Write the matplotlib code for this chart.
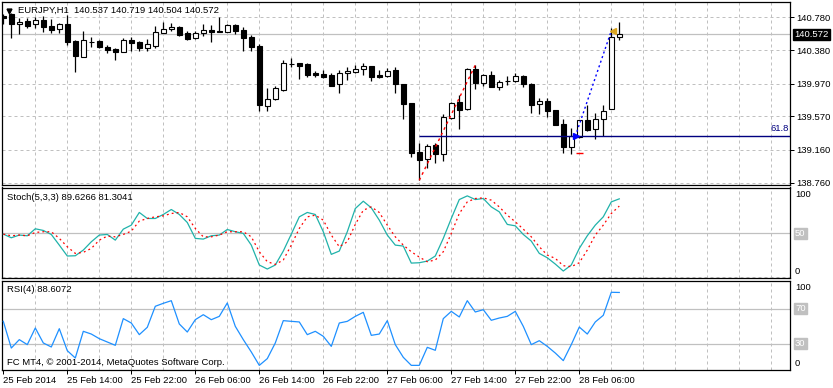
import matplotlib
matplotlib.use('Agg')
import matplotlib.pyplot as plt
import numpy as np

plt.rcParams['font.family'] = ['Liberation Sans', 'DejaVu Sans']

# ---------------- data (EURJPY H1, 25 Feb 06:00 .. 28 Feb 11:00) ----------------
opens = [140.800, 140.817, 140.695, 140.735, 140.695, 140.747, 140.677, 140.634, 140.694, 140.490,
         140.299, 140.475, 140.490, 140.414, 140.393, 140.360, 140.503, 140.475, 140.409, 140.433,
         140.592, 140.637, 140.665, 140.585, 140.524, 140.585, 140.625, 140.610, 140.604, 140.686,
         140.625, 140.536, 140.430, 139.697, 139.779, 139.892, 140.206, 140.218, 140.210, 140.104,
         140.088, 140.075, 139.962, 140.096, 140.116, 140.145, 140.185, 140.075, 140.067, 140.136,
         139.965, 139.737, 139.131, 139.045, 139.220, 139.110, 139.546, 139.742, 139.656, 140.149,
         139.974, 140.075, 139.933, 140.002, 140.006, 140.063, 139.965, 139.725, 139.758, 139.648,
         139.477, 139.200, 139.314, 139.526, 139.412, 139.534, 139.656, 140.537]
highs = [140.820, 140.830, 140.775, 140.768, 140.787, 140.796, 140.756, 140.714, 140.808, 140.503,
         140.613, 140.536, 140.503, 140.442, 140.401, 140.531, 140.536, 140.494, 140.511, 140.674,
         140.726, 140.707, 140.674, 140.613, 140.613, 140.698, 140.686, 140.780, 140.694, 140.698,
         140.658, 140.564, 140.450, 139.913, 139.941, 140.258, 140.279, 140.218, 140.226, 140.128,
         140.136, 140.096, 140.136, 140.177, 140.197, 140.226, 140.185, 140.136, 140.157, 140.169,
         139.965, 139.737, 139.241, 139.233, 139.241, 139.595, 139.749, 139.831, 140.157, 140.197,
         140.088, 140.128, 140.014, 140.063, 140.096, 140.075, 139.981, 139.791, 139.791, 139.648,
         139.538, 139.424, 139.526, 139.709, 139.615, 139.709, 140.646, 140.719]
lows = [140.700, 140.524, 140.572, 140.646, 140.646, 140.604, 140.585, 140.592, 140.442, 140.116,
        140.291, 140.421, 140.409, 140.340, 140.258, 140.360, 140.368, 140.372, 140.372, 140.401,
        140.585, 140.616, 140.555, 140.503, 140.511, 140.555, 140.482, 140.597, 140.597, 140.572,
        140.372, 140.372, 139.636, 139.636, 139.770, 139.880, 140.177, 140.026, 140.055, 140.047,
        140.035, 139.941, 139.859, 140.014, 140.104, 140.075, 140.006, 140.043, 140.047, 139.852,
        139.534, 139.077, 138.789, 138.936, 139.004, 139.029, 139.534, 139.416, 139.648, 139.904,
        139.945, 139.925, 139.892, 139.953, 139.994, 139.925, 139.607, 139.599, 139.566, 139.465,
        139.126, 139.110, 139.310, 139.392, 139.294, 139.330, 139.656, 140.504]
closes = [140.770, 140.695, 140.727, 140.677, 140.747, 140.665, 140.625, 140.698, 140.482, 140.311,
          140.503, 140.475, 140.414, 140.381, 140.360, 140.503, 140.470, 140.409, 140.454, 140.597,
          140.637, 140.665, 140.564, 140.515, 140.585, 140.625, 140.597, 140.597, 140.686, 140.616,
          140.531, 140.421, 139.709, 139.779, 139.913, 140.218, 140.206, 140.189, 140.075, 140.075,
          140.055, 139.945, 140.096, 140.124, 140.149, 140.185, 140.055, 140.055, 140.124, 139.962,
          139.717, 139.126, 139.037, 139.208, 139.110, 139.559, 139.730, 139.648, 140.145, 139.981,
          140.075, 139.933, 139.994, 140.002, 140.063, 139.962, 139.709, 139.758, 139.636, 139.465,
          139.200, 139.330, 139.526, 139.404, 139.534, 139.636, 140.537, 140.572]

stoch_k = [49.2, 45.0, 48.1, 47.3, 55.3, 53.4, 48.8, 36.6, 24.1, 24.4,
           30.9, 40.4, 48.1, 48.8, 42.3, 54.9, 59.5, 74.0, 67.1, 67.1,
           71.7, 77.4, 71.7, 62.5, 44.3, 43.5, 47.3, 48.1, 54.5, 51.9,
           50.0, 36.6, 13.8, 9.2, 13.8, 29.8, 49.2, 69.0, 74.0, 71.7,
           51.9, 26.0, 29.8, 51.9, 78.5, 86.9, 79.3, 65.2, 48.1, 36.6,
           35.5, 16.0, 16.4, 18.3, 24.1, 44.3, 67.1, 88.8, 93.0, 88.8,
           90.0, 80.4, 74.7, 60.3, 58.7, 48.8, 41.2, 27.1, 22.1, 14.9,
           6.9, 13.8, 32.8, 47.3, 59.5, 69.0, 86.1, 89.6]
stoch_d = [49.2, 47.3, 48.1, 47.3, 51.1, 51.9, 51.9, 44.3, 34.7, 27.1,
           28.3, 32.8, 42.3, 46.9, 46.1, 48.8, 52.6, 64.1, 67.1, 69.0,
           70.1, 72.8, 74.0, 69.0, 55.7, 46.1, 46.1, 48.1, 51.9, 51.9,
           51.9, 46.1, 29.0, 17.6, 14.5, 19.5, 36.6, 55.7, 69.0, 70.9,
           65.2, 48.1, 34.7, 40.4, 60.3, 76.6, 80.4, 74.0, 59.5, 46.1,
           36.6, 29.0, 22.9, 17.6, 19.5, 29.0, 50.0, 72.8, 86.1, 90.0,
           90.7, 88.1, 80.4, 70.9, 63.3, 54.9, 46.1, 34.7, 25.2, 21.4,
           13.0, 11.9, 16.4, 30.9, 48.1, 59.5, 72.8, 81.3]
rsi = [55.6, 25.1, 34.7, 29.0, 48.0, 30.9, 26.3, 47.2, 22.1, 13.7,
       44.2, 41.1, 35.8, 32.0, 28.2, 58.7, 53.7, 40.4, 48.8, 72.8,
       76.2, 79.2, 52.6, 43.4, 57.5, 63.2, 57.5, 61.3, 76.6, 49.9,
       34.7, 20.6, 5.3, 13.0, 30.9, 56.4, 55.6, 54.9, 40.4, 44.2,
       38.5, 27.0, 53.7, 55.6, 61.3, 65.9, 39.6, 41.1, 56.4, 29.0,
       14.5, 5.3, 5.3, 25.9, 22.5, 58.7, 67.0, 60.6, 79.2, 66.3,
       68.9, 56.8, 59.4, 61.3, 67.0, 49.9, 29.0, 33.5, 27.0, 19.4,
       10.7, 29.0, 49.1, 41.1, 54.9, 62.5, 88.8, 88.6]

price_levels = [138.760, 139.160, 139.570, 139.970, 140.380, 140.780]
time_labels = ['25 Feb 2014', '25 Feb 14:00', '25 Feb 22:00', '26 Feb 06:00', '26 Feb 14:00',
               '26 Feb 22:00', '27 Feb 06:00', '27 Feb 14:00', '27 Feb 22:00', '28 Feb 06:00']
bid = 140.572
fib_low, fib_high = 138.789, 140.197
fib_level = 139.327
trade_open = (71.7, 139.383)
trade_close = (75.9, 140.585)
stop_loss = 139.119

# ---------------- figure ----------------
W, H = 833, 388
fig = plt.figure(figsize=(W / 100, H / 100), dpi=100)
fig.patch.set_facecolor('white')

def rect(top, bottom, left=2, right=790):
    return [left / W, 1 - bottom / H, (right - left) / W, (bottom - top) / H]

ax = fig.add_axes(rect(2.3, 185))
ax_s = fig.add_axes(rect(187.5, 278.3))
ax_r = fig.add_axes(rect(281, 370))

xmin, xmax = -0.1625, 98.34
GRID = '#c0c0c0'
FS = 6.8
n = len(opens)
idx = np.arange(n)

for a in (ax, ax_s, ax_r):
    a.set_xlim(xmin, xmax)
    a.set_facecolor('white')
    for sp in a.spines.values():
        sp.set_color('black')
        sp.set_linewidth(0.9)
    for k in range(4, 99, 4):
        a.axvline(k, color=GRID, lw=0.72, ls=(0, (3, 3)), zorder=0)
    a.tick_params(axis='x', which='both', bottom=False, labelbottom=False)

# ---- main price panel ----
ax.set_ylim(138.732, 140.963)
for p in price_levels:
    ax.axhline(p, color=GRID, lw=0.72, ls=(0, (3, 3)), zorder=0)
ax.axhline(bid, color=GRID, lw=0.9, zorder=1)

ax.vlines(idx, lows, highs, color='black', lw=0.9, zorder=2)
bottoms = [min(o, c) for o, c in zip(opens, closes)]
heights = [max(abs(c - o), 0.0005) for o, c in zip(opens, closes)]
colors = ['white' if c >= o else 'black' for o, c in zip(opens, closes)]
ax.bar(idx, heights, bottom=bottoms, width=0.62, color=colors, edgecolor='black',
       linewidth=0.8, zorder=3)

# fibonacci trend + 61.8 level
ax.plot([52, 59], [fib_low, fib_high], color='red', lw=1.0, ls=(0, (2, 2.5)), zorder=4)
ax.hlines(fib_level, 51.96, xmax, color='#000080', lw=1.0, zorder=4)
ax.text(0.9985, fib_level + 0.035, '61.8', transform=ax.get_yaxis_transform(),
        ha='right', va='bottom', fontsize=FS, color='#000080')
# trade
ax.plot([trade_open[0], trade_close[0]], [trade_open[1], trade_close[1]], color='blue',
        lw=1.0, ls=(0, (1.5, 2)), zorder=5)
ax.plot([trade_open[0] - 0.1], [trade_open[1] - 0.05], marker='>', color='blue', ms=4.5, zorder=6)
ax.plot([trade_close[0] + 0.3], [trade_close[1] + 0.03], marker='<', color='#daa520', ms=4.5, zorder=6)
ax.hlines(stop_loss, 71.6, 72.5, color='red', lw=1.0, zorder=5)

ax.yaxis.tick_right()
ax.set_yticks(price_levels)
ax.set_yticklabels(['%.3f' % p for p in price_levels])
ax.tick_params(axis='y', length=3, width=0.72, pad=1.5, labelsize=FS, colors='black')
ax.text(1.0051, bid, '%.3f' % bid, transform=ax.get_yaxis_transform(), color='white',
        fontsize=FS, va='center', ha='left',
        bbox=dict(boxstyle='square,pad=0.12', fc='black', ec='black'))
ax.text(0.0203, 0.958, 'EURJPY,H1  140.537 140.719 140.504 140.572', transform=ax.transAxes,
        fontsize=FS, va='center', ha='left', color='black')
ax.plot([0.0085], [0.955], marker='v', color='black', ms=3.5, transform=ax.transAxes,
        clip_on=False)

# ---- stochastic panel ----
ax_s.set_ylim(-1.43, 102.6)
ax_s.axhline(0, color=GRID, lw=0.72, ls=(0, (3, 3)), zorder=0)
ax_s.axhline(50, color=GRID, lw=0.9, zorder=1)
ax_s.plot(idx, stoch_k, color='#20b2aa', lw=0.9, zorder=3)
ax_s.plot(idx, stoch_d, color='red', lw=0.9, ls=(0, (1.5, 2.5)), zorder=3)
ax_s.set_yticks([])
ax_s.text(0.0067, 0.893, 'Stoch(5,3,3) 89.6266 81.3041', transform=ax_s.transAxes,
          fontsize=FS, va='center', ha='left')
tr = ax_s.get_yaxis_transform()
ax_s.text(1.0064, 94.6, '100', transform=tr, fontsize=FS, va='center', ha='left')
ax_s.text(1.0064, 50, '50', transform=tr, fontsize=FS, va='center', ha='left', color='white',
          bbox=dict(boxstyle='square,pad=0.12', fc='#c0c0c0', ec='#c0c0c0'))
ax_s.text(1.0064, 6.1, '0', transform=tr, fontsize=FS, va='center', ha='left')

# ---- RSI panel ----
ax_r.set_ylim(0, 101.7)
ax_r.axhline(70, color=GRID, lw=0.9, zorder=1)
ax_r.axhline(30, color=GRID, lw=0.9, zorder=1)
ax_r.plot(idx, rsi, color='#1e90ff', lw=0.9, zorder=3)
ax_r.set_yticks([])
ax_r.text(0.0067, 0.899, 'RSI(4) 88.6072', transform=ax_r.transAxes,
          fontsize=FS, va='center', ha='left')
ax_r.text(0.0067, 0.079, 'FC MT4, \u00a9 2001-2014, MetaQuotes Software Corp.',
          transform=ax_r.transAxes, fontsize=FS, va='center', ha='left')
tr = ax_r.get_yaxis_transform()
ax_r.text(1.0064, 94.5, '100', transform=tr, fontsize=FS, va='center', ha='left')
ax_r.text(1.0064, 70.5, '70', transform=tr, fontsize=FS, va='center', ha='left', color='white',
          bbox=dict(boxstyle='square,pad=0.12', fc='#c0c0c0', ec='#c0c0c0'))
ax_r.text(1.0064, 30.5, '30', transform=tr, fontsize=FS, va='center', ha='left', color='white',
          bbox=dict(boxstyle='square,pad=0.12', fc='#c0c0c0', ec='#c0c0c0'))
ax_r.text(1.0064, 7.2, '0', transform=tr, fontsize=FS, va='center', ha='left')

ax_r.set_xticks(list(range(0, 73, 8)))
ax_r.set_xticklabels(time_labels)
ax_r.tick_params(axis='x', bottom=True, labelbottom=True, length=3, width=0.72, pad=1.5,
                 labelsize=FS, direction='out')
for lab in ax_r.get_xticklabels():
    lab.set_ha('left')

fig.savefig('out.png', dpi=100, facecolor='white')
